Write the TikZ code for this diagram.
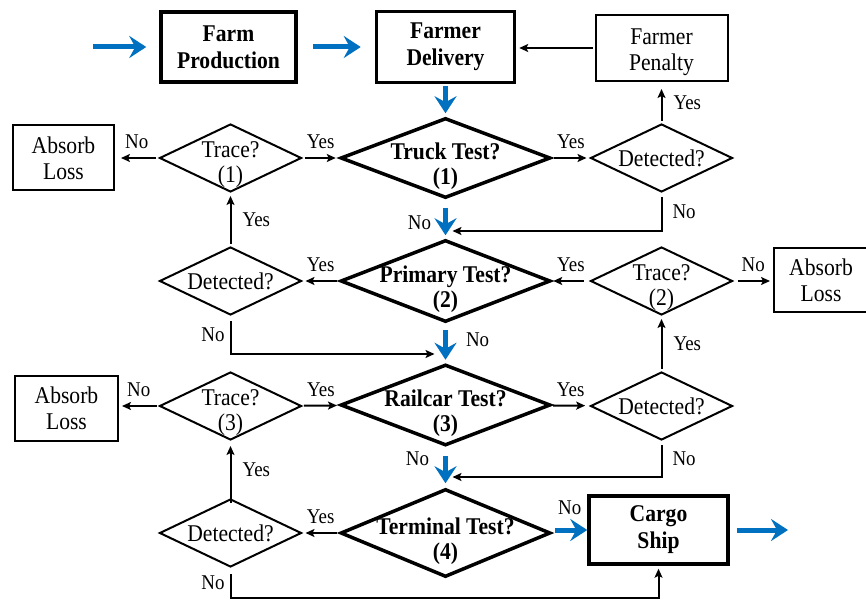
\documentclass[tikz,border=0pt]{standalone}
\usepackage{fontspec}
\setmainfont{Liberation Serif}[FakeStretch=0.9]
\usetikzlibrary{shapes.geometric}
\usetikzlibrary{arrows.meta}
\definecolor{flowblue}{HTML}{0070C0}

\tikzset{
	plainbox/.style={draw, line width=2pt, minimum width=101pt, minimum height=65pt,
		inner sep=0pt, align=center, font=\fontsize{24}{26}\selectfont},
	boldbox/.style={plainbox, line width=3.5pt, font=\fontsize{24}{27}\selectfont\bfseries},
	testnode/.style={diamond, draw, line width=3.5pt, minimum width=210pt, minimum height=82pt,
		aspect=2, inner sep=-20pt, text height=59pt, align=center,
		font=\fontsize{24}{25}\selectfont\bfseries},
	querynode/.style={diamond, draw, line width=2pt, minimum width=142pt, minimum height=68pt,
		aspect=2, inner sep=-10pt, align=center, font=\fontsize{24}{25}\selectfont},
	twoline/.style={text height=55pt},
	carry/.style={draw=flowblue, line width=5pt, -{Stealth[length=17pt,width=22pt,inset=6pt]}},
	arrowline/.style={line width=2pt, -{Stealth[length=9pt,width=8pt,inset=2pt]},
		shorten >=3pt, shorten <=2pt},
	lbl/.style={font=\fontsize{21}{22}\selectfont, inner sep=0pt},
}

\begin{document}
\begin{tikzpicture}[x=1pt,y=-1pt]
	\useasboundingbox (0,0) rectangle (866,601);
%	top row
	\coordinate (start) at (93,47);
	\node[boldbox, minimum width=135pt, minimum height=70pt] (farm) at (228.5,47) {Farm\\Production};
	\node[boldbox, minimum width=138pt, minimum height=71pt] (delivery) at (445.5,47) {Farmer\\Delivery};
	\node[plainbox, minimum width=132pt, minimum height=66pt, text height=50pt] (penalty) at (661.5,48) {Farmer\\Penalty};
%	row 1
	\node[testnode, minimum height=80pt] (truck) at (445.5,158) {Truck Test?\\(1)};
	\node[querynode] (detA) at (661.5,158) {Detected?};
	\node[querynode, twoline] (traceA) at (230.5,158) {Trace?\\(1)};
	\node[plainbox] (lossA) at (63.5,158) {Absorb\\Loss};
%	row 2
	\node[testnode] (primary) at (445.5,281) {Primary Test?\\(2)};
	\node[querynode] (detB) at (230.5,281) {Detected?};
	\node[querynode, twoline] (traceB) at (661.5,281) {Trace?\\(2)};
	\node[plainbox, minimum width=94pt, minimum height=64pt] (lossB) at (821,280) {Absorb\\Loss};
%	row 3
	\node[testnode, minimum height=81pt] (railcar) at (445.5,405) {Railcar Test?\\(3)};
	\node[querynode] (detC) at (661.5,406) {Detected?};
	\node[querynode, twoline] (traceC) at (230.5,406) {Trace?\\(3)};
	\node[plainbox, minimum width=103pt, minimum height=65pt] (lossC) at (66.5,408) {Absorb\\Loss};
%	row 4
	\node[testnode, minimum height=88pt] (terminal) at (445.5,533) {Terminal Test?\\(4)};
	\node[querynode] (detD) at (230.5,533) {Detected?};
	\node[boldbox, minimum width=139pt, minimum height=68pt] (cargo) at (658.5,530) {Cargo\\Ship};
	\coordinate (finish) at (788,530);
	\coordinate (mA) at (445.5,231);
	\coordinate (mB) at (445.5,354);
	\coordinate (mC) at (445.5,477);
	\coordinate (low) at (400,598);

%	main flow
	\draw[carry, shorten >=13pt] (start) -- (farm);
	\draw[carry, shorten <=15pt, shorten >=14pt] (farm) -- (delivery);
	\draw[carry, shorten <=2pt, shorten >=3pt] (delivery) -- (truck);
	\draw[carry, shorten <=8pt, shorten >=3pt] (truck) --
		node[lbl, left=12pt, pos=0.6] {No} (primary);
	\draw[carry, shorten <=6pt, shorten >=3pt] (primary) --
		node[lbl, right=18pt, pos=0.4] {No} (railcar);
	\draw[carry, shorten <=9pt, shorten >=4pt] (railcar) --
		node[lbl, left=14pt, pos=0.28] {No} (terminal);
	\draw[carry, shorten <=3pt] (cargo.west -| terminal.east) --
		node[lbl, above=13pt] {No} (cargo.west);
	\draw[carry, shorten <=7pt] (cargo) -- (finish);

%	row 1 links
	\draw[arrowline] (penalty.west) -- (penalty.west -| delivery.east);
	\draw[arrowline] (truck) -- node[lbl, above=8pt] {Yes} (detA);
	\draw[arrowline, shorten >=7pt] (detA) -- node[lbl, right=11pt] {Yes} (detA |- penalty.south);
	\draw[arrowline, shorten <=4pt, shorten >=7pt] (detA.south) |-
		node[lbl, right=10pt, pos=0.25] {No} (mA);
	\draw[arrowline] (traceA) -- node[lbl, above=8pt] {Yes} (truck);
	\draw[arrowline, shorten >=6pt] (traceA) -- node[lbl, above=8pt] {No} (lossA);
%	row 2 links
	\draw[arrowline] (primary) -- node[lbl, above=8pt] {Yes} (detB);
	\draw[arrowline] (detB) -- node[lbl, right=11pt] {Yes} (traceA);
	\draw[arrowline, shorten <=5pt, shorten >=11pt] (detB.south) |-
		node[lbl, left=5pt, pos=0.25] {No} (mB);
	\draw[arrowline, shorten <=6pt, shorten >=1pt] (traceB) -- node[lbl, above=8pt] {Yes} (primary);
	\draw[arrowline, shorten <=4pt] (traceB) -- node[lbl, above=8pt] {No} (lossB.west |- traceB);
%	row 3 links
	\draw[arrowline, shorten >=5pt] (railcar) -- node[lbl, above=8pt] {Yes} (detC);
	\draw[arrowline] (detC) -- node[lbl, right=11pt] {Yes} (traceB);
	\draw[arrowline, shorten <=4pt, shorten >=7pt] (detC.south) |-
		node[lbl, right=10pt, pos=0.25] {No} (mC);
	\draw[arrowline] (traceC) -- node[lbl, above=8pt] {Yes} (railcar);
	\draw[arrowline] (traceC) -- node[lbl, above=8pt] {No} (lossC.east |- traceC);
%	row 4 links
	\draw[arrowline] (terminal) -- node[lbl, above=8pt] {Yes} (detD);
	\draw[arrowline, shorten <=-5pt, shorten >=5pt] (detD) -- node[lbl, right=11pt] {Yes} (traceC);
	\draw[arrowline, shorten <=6pt] (detD.south) |-
		node[lbl, left=5pt, pos=0.25] {No} (low) -| (cargo.south);
\end{tikzpicture}
\end{document}
